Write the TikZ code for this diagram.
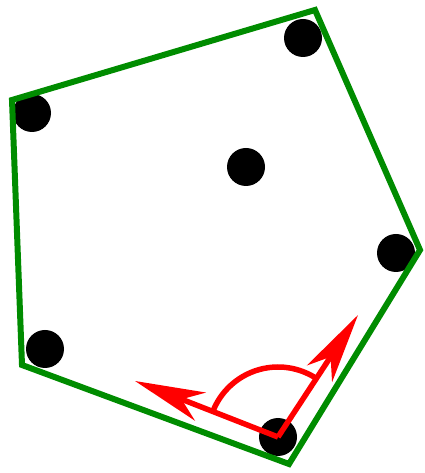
\documentclass[tikz,border=0pt]{standalone}
\usetikzlibrary{arrows.meta,calc}
\definecolor{hull}{HTML}{008C00}
\definecolor{angle}{HTML}{FF0000}

\begin{document}
\begin{tikzpicture}[
  x=1pt,y=1pt,
  pt/.style={circle,fill=black,minimum size=38pt,inner sep=0pt},
  edge/.style={draw=hull,line width=6pt,line join=miter},
  vec/.style={draw=angle,line width=5.5pt,-{Stealth[length=70pt,width=30pt,inset=20pt]}},
  sweep/.style={draw=angle,line width=5.5pt},
]
  \useasboundingbox (0,0) rectangle (424,473);

  % hull corners
  \coordinate (c1) at (12,373);
  \coordinate (c2) at (315,463);
  \coordinate (c3) at (420,223);
  \coordinate (c4) at (289,9);
  \coordinate (c5) at (22,108);

  % points
  \node[pt] (p1) at (32,360) {};
  \node[pt] (p2) at (303,435) {};
  \node[pt] (p3) at (246,306) {};
  \node[pt] (p4) at (396,220) {};
  \node[pt] (p5) at (45,124) {};
  \node[pt] (p6) at (278,36) {};

  \draw[edge] (c1) -- (c2) -- (c3) -- (c4) -- (c5) -- cycle;

  % angle at the lowest point
  \coordinate (u) at (135,92);
  \coordinate (v) at (358,158);
  \draw[vec] (p6.center) -- (u);
  \draw[vec] (p6.center) -- (v);
  \draw[sweep] ($(p6.center)+(158:70)$) arc[start angle=158,end angle=57,radius=70];
\end{tikzpicture}
\end{document}
